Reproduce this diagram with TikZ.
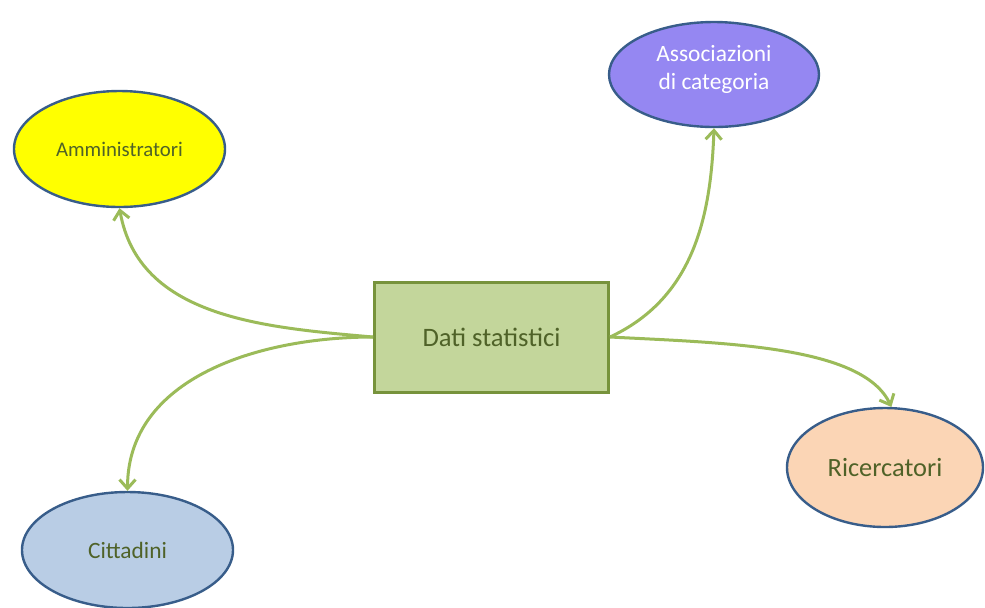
\documentclass[tikz,border=0pt]{standalone}
\usepackage{fontspec}
\setmainfont{Carlito}
\usetikzlibrary{shapes.geometric,arrows.meta}
\definecolor{boxfill}{HTML}{C3D69B}
\definecolor{boxline}{HTML}{77933C}
\definecolor{olivetext}{HTML}{4F6228}
\definecolor{linkgreen}{HTML}{9BBB59}
\definecolor{ovalline}{HTML}{385D8A}
\definecolor{yellowfill}{RGB}{255,255,0}
\definecolor{purplefill}{HTML}{9587F2}
\definecolor{peachfill}{HTML}{FBD5B5}
\definecolor{bluefill}{HTML}{B9CDE5}
\begin{document}
\begin{tikzpicture}[x=0.5pt,y=-0.5pt,
  oval/.style={ellipse, draw=ovalline, line width=1.2pt, inner sep=0pt, text=olivetext, align=center},
  link/.style={-{Straight Barb[length=4.5pt,width=8pt]}, line width=1.5pt, linkgreen}]

\useasboundingbox (0,0) rectangle (985,607);

\node [draw=boxline, fill=boxfill, line width=1.5pt, minimum width=117pt, minimum height=55pt,
  text=olivetext, font=\fontsize{13.3}{16}\selectfont] (dati) at (491.5,337) {Dati statistici};

\node [oval, fill=yellowfill, minimum width=105.5pt, minimum height=58pt,
  font=\fontsize{10.4}{12}\selectfont] (amm) at (119.5,149) {Amministratori};
\node [oval, fill=purplefill, minimum width=105pt, minimum height=52.5pt,
  label={[text=white, align=center, yshift=2.5pt, font=\fontsize{11.7}{14}\selectfont]center:Associazioni\\di categoria}]
  (assoc) at (714,74.5) {};
\node [oval, fill=peachfill, minimum width=98pt, minimum height=59.5pt,
  font=\fontsize{13.2}{16}\selectfont] (ric) at (885,467.5) {Ricercatori};
\node [oval, fill=bluefill, minimum width=105.5pt, minimum height=58pt,
  font=\fontsize{11.7}{14}\selectfont] (citt) at (127.5,550) {Cittadini};

\draw [link] (dati.west) to [out=175, in=-80] (amm.south);
\draw [link] (dati.west) to [out=180, in=90] (citt.north);
\draw [link] (dati.east) to [out=25, in=-92] (assoc.south);
\draw [link] (dati.east) to [out=-3, in=115, in looseness=0.6] (ric.84);

\end{tikzpicture}
\end{document}
